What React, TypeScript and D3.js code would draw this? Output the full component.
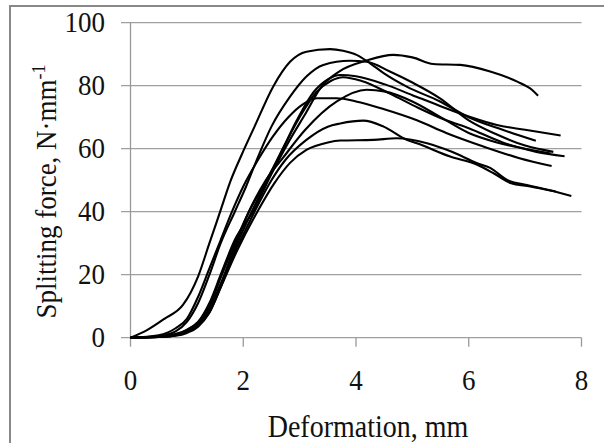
import React from "react";
import * as d3 from "d3";

// ticks
const xTicks = [0, 2, 4, 6, 8];
const yTicks = [0, 20, 40, 60, 80, 100];

// curves: [deformation mm, force N/mm]
const curveA: [number, number][] = [[0,0],[0.3,2.5],[0.6,6],[0.93,10.4],[1.2,19.5],[1.4,30],[1.59,40],[1.78,50],[1.97,58],[2.2,67],[2.53,79.7],[2.83,87.6],[3.12,90.8],[3.54,91.6],[3.77,91.1],[4.01,89.8],[4.25,87.1],[4.49,84],[4.9,79.7],[5.49,75],[6.0,70],[6.6,66],[7.19,62.5]];
const curveC: [number, number][] = [[0,0],[0.5,0.5],[0.8,2],[1.0,5],[1.2,11],[1.4,20],[1.6,30],[1.85,40],[2.05,48],[2.23,56],[2.5,67],[2.83,76.5],[3.12,82.9],[3.42,86.6],[3.89,87.9],[4.19,87.6],[4.6,84.5],[5.0,81],[5.49,76],[6.0,69],[6.5,64.5],[7.0,61],[7.5,59]];
const curveD: [number, number][] = [[0,0],[0.5,0.3],[0.8,1],[1.0,2.5],[1.2,5],[1.4,11],[1.6,20],[1.85,31],[2.17,40],[2.5,52],[2.8,62],[3.1,71],[3.4,80],[3.7,84.5],[4.19,88],[4.66,89.8],[5.0,89],[5.37,86.9],[5.85,86.6],[6.38,84.5],[6.86,81.3],[7.12,78.7],[7.23,76.8]];
const curveE1: [number, number][] = [[0,0],[0.5,0.3],[0.8,1.2],[1.0,2.5],[1.2,5],[1.4,10],[1.6,19],[1.85,30],[2.1,40],[2.35,48],[2.65,58],[2.95,69],[3.25,78],[3.5,82],[3.72,83.4],[4.0,83],[4.5,80.5],[5.0,77],[5.5,73.5],[6.0,70.2],[6.5,67.5],[7.0,66],[7.63,64.2]];
const curveE2: [number, number][] = [[0,0],[0.5,0.2],[0.8,0.8],[1.0,2],[1.2,4],[1.4,8],[1.6,16],[1.85,28],[2.15,40],[2.4,49],[2.7,60],[3.0,70],[3.3,78],[3.55,81.5],[3.77,82.7],[4.1,81.5],[4.6,77.5],[5.1,73],[5.6,69],[6.0,66.5],[6.6,62],[7.2,59],[7.7,57.6]];
const curveF: [number, number][] = [[0,0],[0.5,0.3],[0.8,1],[1.0,2],[1.2,4.5],[1.4,9],[1.6,17],[1.85,29],[2.1,40],[2.4,50],[2.7,57],[3.1,66],[3.66,75],[4.19,78.7],[4.5,78.2],[5.0,75],[5.5,70],[6.0,65],[6.5,62],[7.0,60],[7.45,58.5]];
const curveG: [number, number][] = [[0,0],[0.5,0.8],[0.8,3],[1.0,6],[1.2,13],[1.4,22],[1.6,31],[1.8,40],[2.0,48],[2.26,56.4],[2.53,64],[2.8,70],[3.05,74],[3.3,76],[3.66,76],[4.0,75],[4.5,72.5],[5.08,69],[5.6,65],[6.26,60.7],[6.9,57],[7.47,54.5]];
const curveH: [number, number][] = [[0,0],[0.5,0.2],[0.8,0.8],[1.0,1.8],[1.2,4],[1.4,9],[1.6,17],[1.9,29],[2.2,40],[2.5,50],[2.75,56.5],[3.12,62.8],[3.5,67],[3.72,68],[4.13,68.9],[4.49,67],[4.9,62.8],[5.08,61.7],[5.67,57.5],[6.15,54.9],[6.44,52.2],[6.74,49.1],[7.09,48],[7.54,46.4]];
const curveI: [number, number][] = [[0,0],[0.5,0.2],[0.8,0.6],[1.0,1.5],[1.2,3.5],[1.4,8],[1.6,16],[1.9,28],[2.25,40],[2.55,49],[2.83,55.5],[3.12,59.6],[3.5,62],[3.72,62.6],[4.31,62.8],[4.72,63.3],[5.26,61.7],[5.7,59],[6.15,55.4],[6.38,53.9],[6.68,50.1],[7.03,48.5],[7.4,47],[7.82,45]];

const curves = [curveA, curveC, curveD, curveE1, curveE2, curveF, curveG, curveH, curveI];

const W = 604;
const H = 443;
const font = "Liberation Serif, Times New Roman, Times, serif";
const stretch = 1.1; // the source text is a bit taller than plain Times

export default function App() {
  const x = d3.scaleLinear().domain([0, 8]).range([130.5, 581.5]);
  const y = d3.scaleLinear().domain([0, 100]).range([337.7, 22.7]);

  const line = d3
    .line<[number, number]>()
    .x((d) => x(d[0]))
    .y((d) => y(d[1]))
    .curve(d3.curveMonotoneX);

  const txt = { fontFamily: font, fill: "#111" };

  return (
    <svg width={W} height={H} style={{ position: "absolute", left: 0, top: 0, background: "#fff" }}>
      {/* outer frame */}
      <rect x={10} y={6} width={W} height={H} fill="none" stroke="#888" strokeWidth={2} />

      {/* gridlines + y ticks */}
      {yTicks.map((t) => (
        <g key={t}>
          <line x1={121} x2={x(8)} y1={y(t)} y2={y(t)} stroke="#a0a0a0" strokeWidth={1.3} />
          <text transform={`translate(105,${y(t) + 9}) scale(1,${stretch})`} fontSize={27} textAnchor="end" style={txt}>
            {t}
          </text>
        </g>
      ))}

      {/* y axis */}
      <line x1={x(0)} x2={x(0)} y1={y(100)} y2={y(0) + 0.5} stroke="#999" strokeWidth={1.3} />

      {/* x ticks */}
      {xTicks.map((t) => (
        <g key={t}>
          <line x1={x(t)} x2={x(t)} y1={y(0)} y2={y(0) + 9} stroke="#999" strokeWidth={1.3} />
          <text transform={`translate(${x(t)},390) scale(1,${stretch})`} fontSize={27} textAnchor="middle" style={txt}>
            {t}
          </text>
        </g>
      ))}

      {/* curves */}
      {curves.map((c, i) => (
        <path key={i} d={line(c) || ""} fill="none" stroke="#000" strokeWidth={2.1} strokeLinejoin="round" />
      ))}

      {/* axis titles */}
      <text transform={`translate(368,437) scale(1,${stretch})`} fontSize={28} textAnchor="middle" style={txt}>
        Deformation, mm
      </text>
      <text transform={`translate(56,191.5) rotate(-90) scale(1,${stretch})`} fontSize={27} textAnchor="middle" style={txt}>
        Splitting force,  N·mm
        <tspan dy={-10} fontSize={18}>-1</tspan>
      </text>
    </svg>
  );
}
